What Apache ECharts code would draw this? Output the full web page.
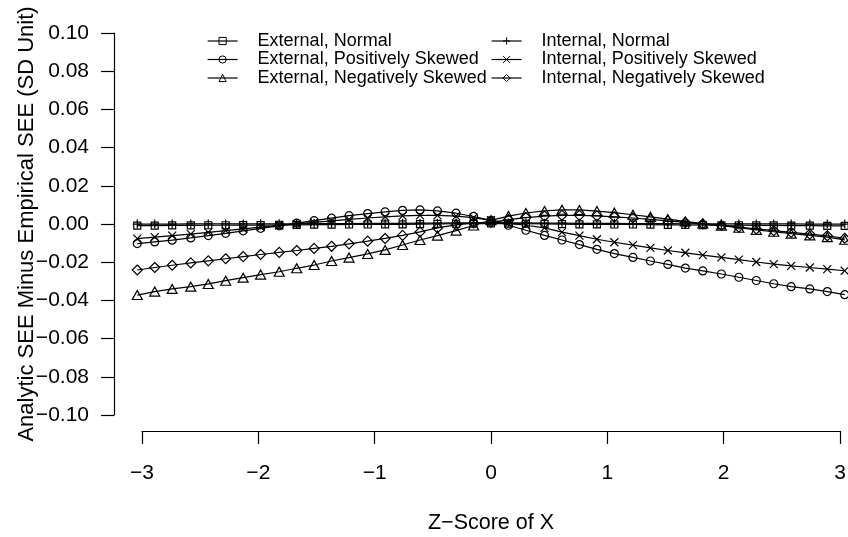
<!DOCTYPE html>
<html>
<head>
<meta charset="utf-8">
<script src="https://cdn.jsdelivr.net/npm/echarts@6/dist/echarts.min.js"></script>
<style>
  html, body { margin: 0; padding: 0; background: #fff; }
  #chart { width: 848px; height: 537px; }
</style>
</head>
<body>
<div id="chart"></div>
<script>
// z-scores of X where the SEE difference was evaluated
const zScores = [-3.04, -2.89, -2.74, -2.58, -2.43, -2.28, -2.13, -1.98, -1.82, -1.67,
  -1.52, -1.37, -1.22, -1.06, -0.91, -0.76, -0.61, -0.46, -0.30, -0.15, 0.00,
  0.15, 0.30, 0.46, 0.61, 0.76, 0.91, 1.06, 1.22, 1.37, 1.52,
  1.67, 1.82, 1.98, 2.13, 2.28, 2.43, 2.58, 2.74, 2.89, 3.04];

const extNormal = [-0.0006, -0.0006, -0.0005, -0.0005, -0.0004, -0.0004, -0.0003, -0.0003, -0.0002, -0.0002,
  -0.0001, -0.0001, 0.0000, 0.0000, 0.0001, 0.0001, 0.0002, 0.0003, 0.0004, 0.0005, 0.0006,
  0.0005, 0.0004, 0.0003, 0.0002, 0.0001, 0.0001, 0.0000, 0.0000, -0.0001, -0.0002,
  -0.0002, -0.0003, -0.0004, -0.0004, -0.0005, -0.0005, -0.0006, -0.0006, -0.0007, -0.0007];

const extPosSkew = [-0.0100, -0.0091, -0.0082, -0.0070, -0.0058, -0.0046, -0.0033, -0.0020, -0.0007, 0.0007,
  0.0020, 0.0033, 0.0046, 0.0057, 0.0066, 0.0074, 0.0076, 0.0071, 0.0059, 0.0042, 0.0022,
  -0.0004, -0.0030, -0.0057, -0.0081, -0.0105, -0.0130, -0.0152, -0.0172, -0.0191, -0.0209,
  -0.0228, -0.0243, -0.0259, -0.0276, -0.0293, -0.0310, -0.0325, -0.0337, -0.0351, -0.0367];

const extNegSkew = [-0.0369, -0.0351, -0.0337, -0.0325, -0.0311, -0.0294, -0.0278, -0.0262, -0.0247, -0.0229,
  -0.0212, -0.0191, -0.0173, -0.0154, -0.0133, -0.0107, -0.0081, -0.0058, -0.0032, -0.0005, 0.0022,
  0.0044, 0.0060, 0.0071, 0.0077, 0.0076, 0.0070, 0.0062, 0.0051, 0.0040, 0.0028,
  0.0016, 0.0005, -0.0006, -0.0017, -0.0028, -0.0038, -0.0048, -0.0057, -0.0066, -0.0080];

const intNormal = [0.0002, 0.0002, 0.0002, 0.0003, 0.0003, 0.0003, 0.0003, 0.0004, 0.0004, 0.0004,
  0.0005, 0.0005, 0.0005, 0.0006, 0.0006, 0.0006, 0.0007, 0.0007, 0.0008, 0.0008, 0.0009,
  0.0008, 0.0008, 0.0007, 0.0007, 0.0006, 0.0006, 0.0006, 0.0005, 0.0005, 0.0005,
  0.0004, 0.0004, 0.0004, 0.0003, 0.0003, 0.0003, 0.0003, 0.0002, 0.0002, 0.0002];

const intPosSkew = [-0.0074, -0.0066, -0.0058, -0.0050, -0.0041, -0.0032, -0.0023, -0.0014, -0.0005, 0.0003,
  0.0011, 0.0019, 0.0027, 0.0034, 0.0040, 0.0045, 0.0048, 0.0048, 0.0044, 0.0036, 0.0022,
  0.0006, -0.0004, -0.0018, -0.0040, -0.0058, -0.0077, -0.0093, -0.0108, -0.0122, -0.0136,
  -0.0148, -0.0160, -0.0172, -0.0184, -0.0196, -0.0207, -0.0216, -0.0225, -0.0233, -0.0242];

const intNegSkew = [-0.0238, -0.0225, -0.0213, -0.0201, -0.0190, -0.0179, -0.0168, -0.0157, -0.0146, -0.0136,
  -0.0125, -0.0114, -0.0101, -0.0087, -0.0073, -0.0057, -0.0039, -0.0018, -0.0002, 0.0008, 0.0012,
  0.0025, 0.0036, 0.0044, 0.0048, 0.0048, 0.0045, 0.0040, 0.0034, 0.0027, 0.0019,
  0.0011, 0.0003, -0.0005, -0.0014, -0.0023, -0.0032, -0.0041, -0.0050, -0.0059, -0.0072];

const xTicks = [-3, -2, -1, 0, 1, 2, 3];

const FONT = 'Liberation Sans, Arial, Helvetica, sans-serif';
const MINUS = '\u2212';
const INK = '#000';

const PLUS = 'path://M0,5L10,5M5,0L5,10';
const CROSS = 'path://M0,0L10,10M10,0L0,10';

function pairs(ys) {
  return zScores.map(function (x, i) { return [x, ys[i]]; });
}

function makeSeries(name, ys, symbol, size) {
  return {
    name: name,
    type: 'line',
    xAxisIndex: 0,
    yAxisIndex: 0,
    data: pairs(ys),
    symbol: symbol,
    symbolSize: size,
    showSymbol: true,
    showAllSymbol: true,
    clip: false,
    lineStyle: { color: INK, width: 1.2 },
    itemStyle: { color: 'transparent', borderColor: INK, borderWidth: 1.2 },
    emphasis: { disabled: true }
  };
}

const chart = echarts.init(document.getElementById('chart'), null, { renderer: 'canvas' });

const legendCommon = {
  orient: 'vertical',
  padding: 0,
  itemWidth: 30,
  itemHeight: 9,
  itemGap: 0.5,
  selectedMode: false,
  textStyle: { fontFamily: FONT, fontSize: 18, color: INK, lineHeight: 18, padding: [0, 0, 0, 15] },
  itemStyle: { color: 'transparent', borderColor: INK, borderWidth: 1 },
  lineStyle: { color: INK, width: 1.2 }
};

const option = {
  animation: false,
  backgroundColor: '#fff',
  textStyle: { fontFamily: FONT },
  legend: [
    Object.assign({}, legendCommon, {
      left: 207, top: 32,
      data: ['External, Normal', 'External, Positively Skewed', 'External, Negatively Skewed']
    }),
    Object.assign({}, legendCommon, {
      left: 491, top: 32,
      data: ['Internal, Normal', 'Internal, Positively Skewed', 'Internal, Negatively Skewed']
    })
  ],
  grid: [
    // plotting region (data range padded by 4% on each side)
    { left: 114, top: 18, width: 754, height: 413, outerBoundsMode: 'none', containLabel: false },
    // region spanned by the drawn axes
    { left: 142, top: 33, width: 698, height: 382, outerBoundsMode: 'none', containLabel: false }
  ],
  xAxis: [
    { type: 'value', gridIndex: 0, min: -3.24, max: 3.24, show: false },
    {
      type: 'value', gridIndex: 1, min: -3, max: 3, interval: 1,
      position: 'bottom', offset: 16,
      name: 'Z' + MINUS + 'Score of X', nameLocation: 'middle', nameGap: 81,
      nameMoveOverlap: false,
      nameTextStyle: { fontFamily: FONT, fontSize: 21.5, color: INK },
      axisLine: { show: true, onZero: false, lineStyle: { color: INK, width: 1.2 } },
      axisTick: { show: true, length: 13, lineStyle: { color: INK, width: 1.2 } },
      axisLabel: {
        margin: 32, fontFamily: FONT, fontSize: 21, color: INK, verticalAlign: 'top',
        showMinLabel: true, showMaxLabel: true,
        formatter: function (v) { return xTicks.indexOf(v) >= 0 ? String(v).replace('-', MINUS) : ''; }
      },
      splitLine: { show: false }
    }
  ],
  yAxis: [
    { type: 'value', gridIndex: 0, min: -0.108, max: 0.108, show: false },
    {
      type: 'value', gridIndex: 1, min: -0.1, max: 0.1, interval: 0.02,
      position: 'left', offset: 28,
      name: 'Analytic SEE Minus Empirical SEE (SD Unit)', nameLocation: 'middle', nameGap: 76,
      nameMoveOverlap: false,
      nameTextStyle: { fontFamily: FONT, fontSize: 22, color: INK },
      axisLine: { show: true, onZero: false, lineStyle: { color: INK, width: 1.2 } },
      axisTick: { show: true, length: 13, lineStyle: { color: INK, width: 1.2 } },
      axisLabel: {
        margin: 25, fontFamily: FONT, fontSize: 21, color: INK,
        showMinLabel: true, showMaxLabel: true,
        formatter: function (v) {
          const s = Math.abs(v) < 1e-9 ? '0.00' : v.toFixed(2);
          return s.replace('-', MINUS);
        }
      },
      splitLine: { show: false }
    }
  ],
  series: [
    makeSeries('External, Normal', extNormal, 'rect', 7),
    makeSeries('External, Positively Skewed', extPosSkew, 'circle', 8),
    makeSeries('External, Negatively Skewed', extNegSkew, 'triangle', [10, 9]),
    makeSeries('Internal, Normal', intNormal, PLUS, 9),
    makeSeries('Internal, Positively Skewed', intPosSkew, CROSS, 8),
    makeSeries('Internal, Negatively Skewed', intNegSkew, 'diamond', [10, 10])
  ]
};

chart.setOption(option);
</script>
</body>
</html>
